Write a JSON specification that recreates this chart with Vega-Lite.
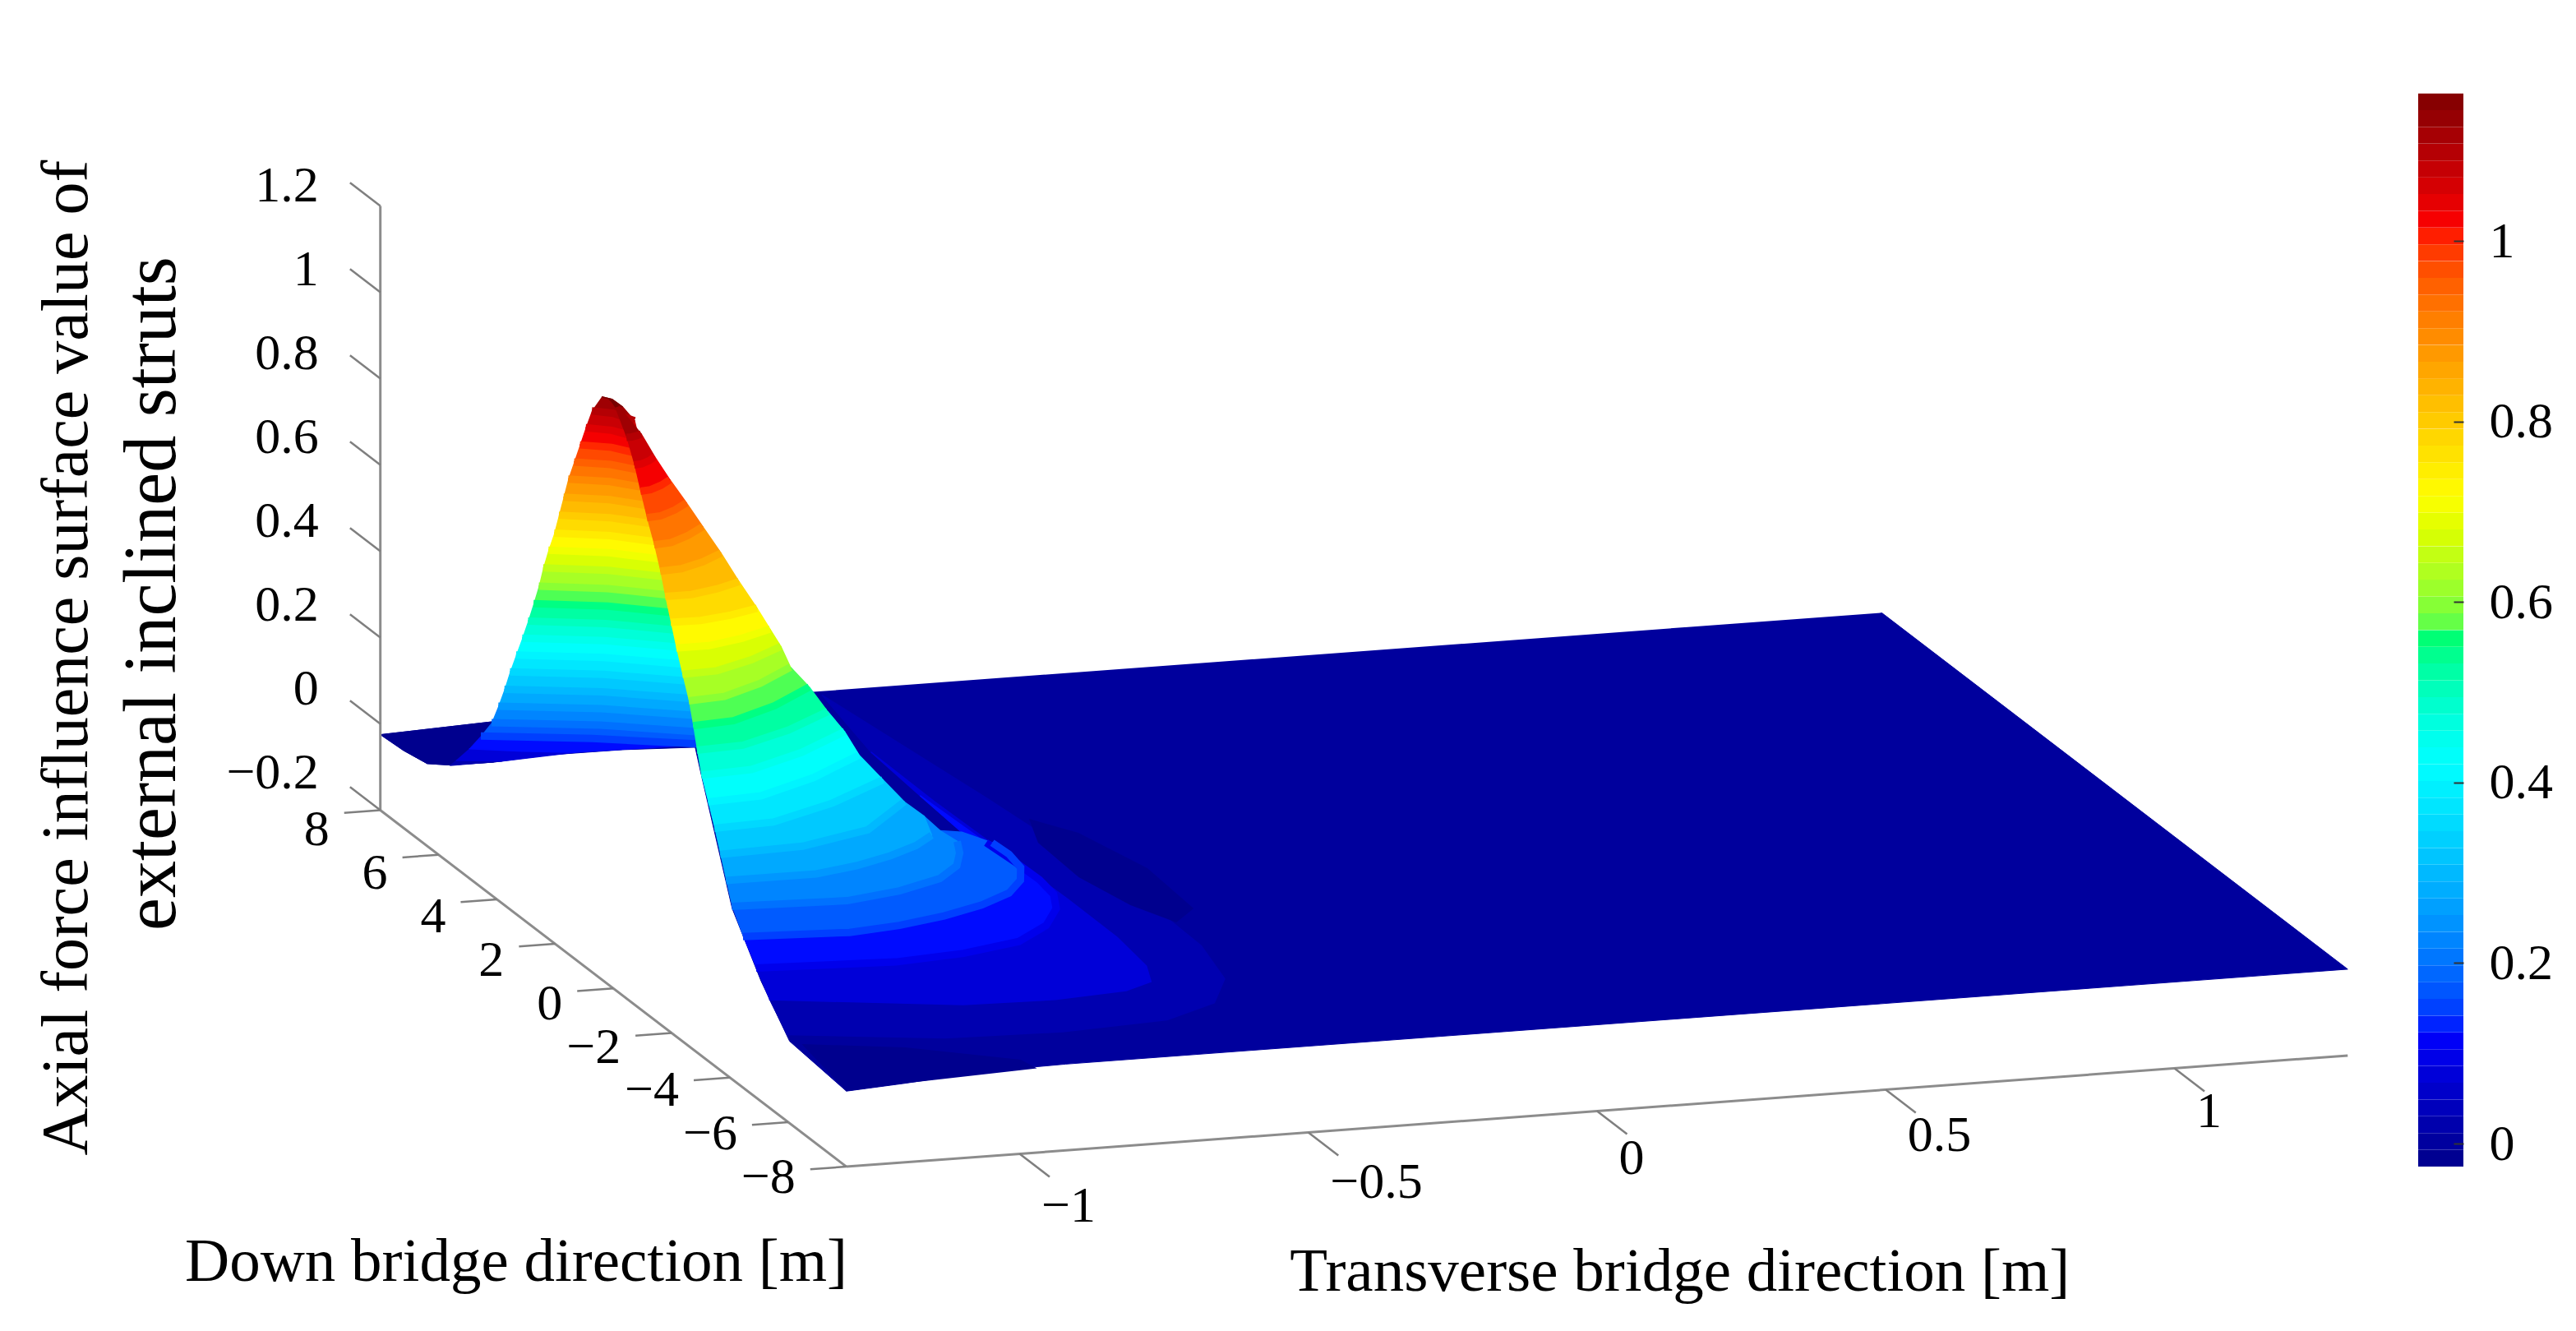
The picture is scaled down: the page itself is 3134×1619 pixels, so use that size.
{
"$schema":"https://vega.github.io/schema/vega-lite/v6.json",
"width":3134,"height":1619,"padding":0,"autosize":"none","background":"white",
"config":{"view":{"stroke":null}},
"datasets":{
"sheets":[
{"s":"b","z":0,"j":0,"t":-1.276,"d":6.09},
{"s":"b","z":0.05,"j":0,"t":-1.3,"d":5.4},{"s":"b","z":0.05,"j":1,"t":-1.265,"d":5.316},{"s":"b","z":0.05,"j":2,"t":-1.23,"d":5.229},
{"s":"b","z":0.1,"j":0,"t":-1.3,"d":4.95},{"s":"b","z":0.1,"j":1,"t":-1.221,"d":4.687},{"s":"b","z":0.1,"j":2,"t":-1.14,"d":4.478},
{"s":"b","z":0.15,"j":0,"t":-1.3,"d":4.55},{"s":"b","z":0.15,"j":1,"t":-1.129,"d":4.11},{"s":"b","z":0.15,"j":2,"t":-0.964,"d":3.537},
{"s":"b","z":0.2,"j":0,"t":-1.3,"d":4.18},{"s":"b","z":0.2,"j":1,"t":-1.134,"d":3.752},{"s":"b","z":0.2,"j":2,"t":-0.979,"d":3.121},
{"s":"b","z":0.25,"j":0,"t":-1.3,"d":3.95},{"s":"b","z":0.25,"j":1,"t":-1.142,"d":3.537},{"s":"b","z":0.25,"j":2,"t":-0.995,"d":2.921},
{"s":"b","z":0.3,"j":0,"t":-1.3,"d":3.74},{"s":"b","z":0.3,"j":1,"t":-1.151,"d":3.343},{"s":"b","z":0.3,"j":2,"t":-1.011,"d":2.743},
{"s":"b","z":0.35,"j":0,"t":-1.3,"d":3.55},{"s":"b","z":0.35,"j":1,"t":-1.157,"d":3.165},{"s":"b","z":0.35,"j":2,"t":-1.024,"d":2.578},
{"s":"b","z":0.4,"j":0,"t":-1.3,"d":3.34},{"s":"b","z":0.4,"j":1,"t":-1.166,"d":2.971},{"s":"b","z":0.4,"j":2,"t":-1.041,"d":2.401},
{"s":"b","z":0.45,"j":0,"t":-1.3,"d":3.13},{"s":"b","z":0.45,"j":1,"t":-1.174,"d":2.778},{"s":"b","z":0.45,"j":2,"t":-1.058,"d":2.223},
{"s":"b","z":0.5,"j":0,"t":-1.3,"d":2.93},{"s":"b","z":0.5,"j":1,"t":-1.182,"d":2.592},{"s":"b","z":0.5,"j":2,"t":-1.074,"d":2.053},
{"s":"b","z":0.55,"j":0,"t":-1.3,"d":2.74},{"s":"b","z":0.55,"j":1,"t":-1.188,"d":2.415},{"s":"b","z":0.55,"j":2,"t":-1.087,"d":1.888},
{"s":"b","z":0.6,"j":0,"t":-1.3,"d":2.56},{"s":"b","z":0.6,"j":1,"t":-1.196,"d":2.25},{"s":"b","z":0.6,"j":2,"t":-1.102,"d":1.738},
{"s":"b","z":0.65,"j":0,"t":-1.3,"d":2.41},{"s":"b","z":0.65,"j":1,"t":-1.202,"d":2.111},{"s":"b","z":0.65,"j":2,"t":-1.114,"d":1.61},
{"s":"b","z":0.7,"j":0,"t":-1.3,"d":2.23},{"s":"b","z":0.7,"j":1,"t":-1.209,"d":1.945},{"s":"b","z":0.7,"j":2,"t":-1.128,"d":1.457},
{"s":"b","z":0.75,"j":0,"t":-1.3,"d":2.03},{"s":"b","z":0.75,"j":1,"t":-1.217,"d":1.761},{"s":"b","z":0.75,"j":2,"t":-1.145,"d":1.29},
{"s":"b","z":0.8,"j":0,"t":-1.3,"d":1.87},{"s":"b","z":0.8,"j":1,"t":-1.225,"d":1.615},{"s":"b","z":0.8,"j":2,"t":-1.159,"d":1.157},
{"s":"b","z":0.85,"j":0,"t":-1.3,"d":1.71},{"s":"b","z":0.85,"j":1,"t":-1.232,"d":1.468},{"s":"b","z":0.85,"j":2,"t":-1.174,"d":1.025},
{"s":"b","z":0.9,"j":0,"t":-1.3,"d":1.55},{"s":"b","z":0.9,"j":1,"t":-1.239,"d":1.322},{"s":"b","z":0.9,"j":2,"t":-1.188,"d":0.892},
{"s":"b","z":0.95,"j":0,"t":-1.3,"d":1.35},{"s":"b","z":0.95,"j":1,"t":-1.247,"d":1.137},{"s":"b","z":0.95,"j":2,"t":-1.204,"d":0.722},
{"s":"b","z":1,"j":0,"t":-1.3,"d":1.15},{"s":"b","z":1,"j":1,"t":-1.255,"d":0.953},{"s":"b","z":1,"j":2,"t":-1.22,"d":0.554},
{"s":"b","z":1.05,"j":0,"t":-1.3,"d":0.95},{"s":"b","z":1.05,"j":1,"t":-1.264,"d":0.769},{"s":"b","z":1.05,"j":2,"t":-1.237,"d":0.387},
{"s":"b","z":1.1,"j":0,"t":-1.3,"d":0.74},{"s":"b","z":1.1,"j":1,"t":-1.271,"d":0.574},{"s":"b","z":1.1,"j":2,"t":-1.253,"d":0.207},
{"s":"b","z":1.15,"j":0,"t":-1.3,"d":0.4},{"s":"b","z":1.15,"j":1,"t":-1.289,"d":0.27},{"s":"b","z":1.15,"j":2,"t":-1.288,"d":-0.07},
{"s":"b","z":1.158,"j":0,"t":-1.3,"d":0.14},
{"s":"f","z":0,"j":0,"t":-1.3,"d":-5.95},{"s":"f","z":0,"j":1,"t":-1.056,"d":-6.565},{"s":"f","z":0,"j":1.5,"t":-0.858,"d":-6.664},{"s":"f","z":0,"j":2,"t":-0.669,"d":-6.497},{"s":"f","z":0,"j":2.5,"t":-0.559,"d":-5.943},{"s":"f","z":0,"j":3,"t":-0.493,"d":-4.99},{"s":"f","z":0,"j":3.5,"t":-0.462,"d":-3.574},{"s":"f","z":0,"j":4,"t":-0.457,"d":-1.737},{"s":"f","z":0,"j":5,"t":-0.496,"d":3.134},{"s":"f","z":0,"j":6,"t":-0.543,"d":7.838},
{"s":"f","z":0.05,"j":0,"t":-1.3,"d":-5.35},{"s":"f","z":0.05,"j":1,"t":-1.004,"d":-6.14},{"s":"f","z":0.05,"j":1.5,"t":-0.848,"d":-6.209},{"s":"f","z":0.05,"j":2,"t":-0.718,"d":-6.061},{"s":"f","z":0.05,"j":2.5,"t":-0.66,"d":-5.768},{"s":"f","z":0.05,"j":3,"t":-0.635,"d":-5.114},{"s":"f","z":0.05,"j":3.5,"t":-0.622,"d":-3.849},{"s":"f","z":0.05,"j":4,"t":-0.621,"d":-2.152},{"s":"f","z":0.05,"j":5,"t":-0.63,"d":2.258},{"s":"f","z":0.05,"j":6,"t":-0.628,"d":4.468},
{"s":"f","z":0.1,"j":0,"t":-1.3,"d":-4.9},{"s":"f","z":0.1,"j":1,"t":-1.067,"d":-5.071},{"s":"f","z":0.1,"j":1.5,"t":-0.942,"d":-4.925},{"s":"f","z":0.1,"j":2,"t":-0.83,"d":-4.604},{"s":"f","z":0.1,"j":2.5,"t":-0.754,"d":-4.035},{"s":"f","z":0.1,"j":3,"t":-0.703,"d":-3.37},{"s":"f","z":0.1,"j":3.5,"t":-0.678,"d":-2.784},{"s":"f","z":0.1,"j":4,"t":-0.67,"d":-2.143},{"s":"f","z":0.1,"j":4.5,"t":-0.672,"d":-1.361},{"s":"f","z":0.1,"j":5,"t":-0.678,"d":-0.467},{"s":"f","z":0.1,"j":6,"t":-0.685,"d":1.65},
{"s":"f","z":0.15,"j":0,"t":-1.3,"d":-4.45},{"s":"f","z":0.15,"j":1,"t":-1.123,"d":-4.605},{"s":"f","z":0.15,"j":1.5,"t":-1.03,"d":-4.468},{"s":"f","z":0.15,"j":2,"t":-0.94,"d":-4.219},{"s":"f","z":0.15,"j":2.5,"t":-0.858,"d":-3.885},{"s":"f","z":0.15,"j":3,"t":-0.79,"d":-3.474},{"s":"f","z":0.15,"j":3.5,"t":-0.746,"d":-2.992},{"s":"f","z":0.15,"j":4,"t":-0.719,"d":-2.466},{"s":"f","z":0.15,"j":4.5,"t":-0.71,"d":-1.888},{"s":"f","z":0.15,"j":5,"t":-0.713,"d":-1.369},{"s":"f","z":0.15,"j":6,"t":-0.739,"d":-0.84},
{"s":"f","z":0.2,"j":0,"t":-1.3,"d":-4.07},{"s":"f","z":0.2,"j":1,"t":-1.106,"d":-4.183},{"s":"f","z":0.2,"j":1.5,"t":-1.003,"d":-3.938},{"s":"f","z":0.2,"j":2,"t":-0.914,"d":-3.556},{"s":"f","z":0.2,"j":2.5,"t":-0.861,"d":-3.086},{"s":"f","z":0.2,"j":3,"t":-0.83,"d":-2.573},{"s":"f","z":0.2,"j":3.5,"t":-0.81,"d":-2.09},{"s":"f","z":0.2,"j":4,"t":-0.815,"d":-1.605},
{"s":"f","z":0.25,"j":0,"t":-1.3,"d":-3.87},{"s":"f","z":0.25,"j":1,"t":-1.144,"d":-3.875},{"s":"f","z":0.25,"j":1.5,"t":-1.064,"d":-3.662},{"s":"f","z":0.25,"j":2,"t":-0.99,"d":-3.359},{"s":"f","z":0.25,"j":2.5,"t":-0.928,"d":-3.018},{"s":"f","z":0.25,"j":3,"t":-0.882,"d":-2.642},{"s":"f","z":0.25,"j":4,"t":-0.855,"d":-1.846},
{"s":"f","z":0.3,"j":0,"t":-1.3,"d":-3.67},{"s":"f","z":0.3,"j":1,"t":-1.153,"d":-3.583},{"s":"f","z":0.3,"j":2,"t":-1.016,"d":-3.109},{"s":"f","z":0.3,"j":3,"t":-0.901,"d":-2.075},
{"s":"f","z":0.35,"j":0,"t":-1.3,"d":-3.47},{"s":"f","z":0.35,"j":1,"t":-1.194,"d":-3.391},{"s":"f","z":0.35,"j":2,"t":-1.062,"d":-2.795},{"s":"f","z":0.35,"j":3,"t":-0.934,"d":-1.996},
{"s":"f","z":0.4,"j":0,"t":-1.3,"d":-3.25},{"s":"f","z":0.4,"j":1,"t":-1.204,"d":-3.161},{"s":"f","z":0.4,"j":2,"t":-1.083,"d":-2.574},{"s":"f","z":0.4,"j":3,"t":-0.965,"d":-1.791},
{"s":"f","z":0.45,"j":0,"t":-1.3,"d":-3.02},{"s":"f","z":0.45,"j":1,"t":-1.209,"d":-2.94},{"s":"f","z":0.45,"j":2,"t":-1.095,"d":-2.396},{"s":"f","z":0.45,"j":3,"t":-0.984,"d":-1.67},
{"s":"f","z":0.5,"j":0,"t":-1.3,"d":-2.87},{"s":"f","z":0.5,"j":1,"t":-1.217,"d":-2.803},{"s":"f","z":0.5,"j":2,"t":-1.114,"d":-2.325},{"s":"f","z":0.5,"j":3,"t":-1.014,"d":-1.685},
{"s":"f","z":0.55,"j":0,"t":-1.3,"d":-2.74},{"s":"f","z":0.55,"j":1,"t":-1.226,"d":-2.657},{"s":"f","z":0.55,"j":2,"t":-1.13,"d":-2.164},{"s":"f","z":0.55,"j":3,"t":-1.037,"d":-1.51},
{"s":"f","z":0.6,"j":0,"t":-1.3,"d":-2.59},{"s":"f","z":0.6,"j":1,"t":-1.235,"d":-2.519},{"s":"f","z":0.6,"j":2,"t":-1.151,"d":-2.089},{"s":"f","z":0.6,"j":3,"t":-1.07,"d":-1.519},
{"s":"f","z":0.65,"j":0,"t":-1.3,"d":-2.37},{"s":"f","z":0.65,"j":1,"t":-1.238,"d":-2.326},{"s":"f","z":0.65,"j":2,"t":-1.161,"d":-1.984},{"s":"f","z":0.65,"j":3,"t":-1.087,"d":-1.525},
{"s":"f","z":0.7,"j":0,"t":-1.3,"d":-2.16},{"s":"f","z":0.7,"j":1,"t":-1.243,"d":-2.159},{"s":"f","z":0.7,"j":2,"t":-1.176,"d":-1.956},{"s":"f","z":0.7,"j":3,"t":-1.113,"d":-1.67},
{"s":"f","z":0.75,"j":0,"t":-1.3,"d":-1.97},{"s":"f","z":0.75,"j":1,"t":-1.249,"d":-1.987},{"s":"f","z":0.75,"j":2,"t":-1.19,"d":-1.856},{"s":"f","z":0.75,"j":3,"t":-1.135,"d":-1.66},
{"s":"f","z":0.8,"j":0,"t":-1.3,"d":-1.78},{"s":"f","z":0.8,"j":1,"t":-1.255,"d":-1.78},{"s":"f","z":0.8,"j":2,"t":-1.202,"d":-1.622},{"s":"f","z":0.8,"j":3,"t":-1.153,"d":-1.398},
{"s":"f","z":0.85,"j":0,"t":-1.3,"d":-1.61},{"s":"f","z":0.85,"j":1,"t":-1.262,"d":-1.578},{"s":"f","z":0.85,"j":2,"t":-1.213,"d":-1.354},{"s":"f","z":0.85,"j":3,"t":-1.167,"d":-1.054},
{"s":"f","z":0.9,"j":0,"t":-1.3,"d":-1.4},{"s":"f","z":0.9,"j":1,"t":-1.268,"d":-1.355},{"s":"f","z":0.9,"j":2,"t":-1.227,"d":-1.118},{"s":"f","z":0.9,"j":3,"t":-1.186,"d":-0.807},
{"s":"f","z":0.95,"j":0,"t":-1.3,"d":-1.15},{"s":"f","z":0.95,"j":1,"t":-1.274,"d":-1.113},{"s":"f","z":0.95,"j":2,"t":-1.24,"d":-0.919},{"s":"f","z":0.95,"j":3,"t":-1.207,"d":-0.664},
{"s":"f","z":1,"j":0,"t":-1.3,"d":-0.93},{"s":"f","z":1,"j":1,"t":-1.281,"d":-0.9},{"s":"f","z":1,"j":2,"t":-1.255,"d":-0.748},{"s":"f","z":1,"j":3,"t":-1.23,"d":-0.549},
{"s":"f","z":1.05,"j":0,"t":-1.3,"d":-0.72},{"s":"f","z":1.05,"j":1,"t":-1.286,"d":-0.698},{"s":"f","z":1.05,"j":2,"t":-1.268,"d":-0.589},{"s":"f","z":1.05,"j":3,"t":-1.251,"d":-0.446},
{"s":"f","z":1.1,"j":0,"t":-1.3,"d":-0.45},{"s":"f","z":1.1,"j":1,"t":-1.291,"d":-0.448},{"s":"f","z":1.1,"j":2,"t":-1.28,"d":-0.411},{"s":"f","z":1.1,"j":3,"t":-1.27,"d":-0.36},
{"s":"f","z":1.15,"j":0,"t":-1.3,"d":-0.05},{"s":"f","z":1.15,"j":1,"t":-1.293,"d":-0.026},
{"s":"f","z":1.158,"j":0,"t":-1.3,"d":0.14}
],
"patches":[
{"p":"plate","j":0,"t":1.3,"d":8,"z":0},{"p":"plate","j":1,"t":1.3,"d":-8,"z":0},{"p":"plate","j":2,"t":-0.77,"d":-8,"z":0},{"p":"plate","j":3,"t":-0.92,"d":-8,"z":0},{"p":"plate","j":4,"t":-1.06,"d":-8,"z":-0.003},{"p":"plate","j":5,"t":-1.2,"d":-8,"z":-0.017},{"p":"plate","j":6,"t":-1.3,"d":-8,"z":-0.025},{"p":"plate","j":6.5,"t":-1.3,"d":-6.05,"z":-0.01},{"p":"plate","j":7,"t":-1.3,"d":-5.07,"z":0.079},{"p":"plate","j":8,"t":-1.3,"d":-4.08,"z":0.196},{"p":"plate","j":9,"t":-1.3,"d":-3.01,"z":0.453},{"p":"plate","j":10,"t":-0.958,"d":3.97,"z":0.12},{"p":"plate","j":11,"t":-1.078,"d":4.09,"z":0.12},{"p":"plate","j":12,"t":-1.204,"d":4.1,"z":0.12},{"p":"plate","j":13,"t":-1.28,"d":4.5,"z":0.09},{"p":"plate","j":14,"t":-1.3,"d":5.63,"z":0.027},{"p":"plate","j":15,"t":-1.3,"d":6.39,"z":-0.009},{"p":"plate","j":16,"t":-1.3,"d":7.24,"z":-0.021},{"p":"plate","j":17,"t":-1.3,"d":8,"z":-0.025},{"p":"plate","j":18,"t":-1.1,"d":8,"z":-0.014},{"p":"plate","j":19,"t":-0.55,"d":8,"z":0},
{"p":"notch","j":0,"t":-1.3,"d":8,"z":-0.025},{"p":"notch","j":1,"t":-1.1,"d":8,"z":-0.014},{"p":"notch","j":2,"t":-1.28,"d":4.5,"z":0.09},{"p":"notch","j":3,"t":-1.3,"d":5.63,"z":0.027},{"p":"notch","j":4,"t":-1.3,"d":6.39,"z":-0.009},{"p":"notch","j":5,"t":-1.3,"d":7.24,"z":-0.021},
{"p":"dip","j":0,"t":-0.454,"d":2.5,"z":-0.02},{"p":"dip","j":1,"t":-0.405,"d":1.78,"z":-0.02},{"p":"dip","j":2,"t":-0.369,"d":0.124,"z":-0.02},{"p":"dip","j":3,"t":-0.379,"d":-1.663,"z":-0.02},{"p":"dip","j":4,"t":-0.435,"d":-2.183,"z":-0.02},{"p":"dip","j":5,"t":-0.472,"d":-1.338,"z":-0.02},{"p":"dip","j":6,"t":-0.496,"d":-0.037,"z":-0.02},{"p":"dip","j":7,"t":-0.489,"d":1.498,"z":-0.02},
{"p":"corner","j":0,"t":-1.278,"d":-6.03,"z":-0.02},{"p":"corner","j":1,"t":-1.122,"d":-6.475,"z":-0.02},{"p":"corner","j":2,"t":-0.964,"d":-7.33,"z":-0.02},{"p":"corner","j":3,"t":-0.97,"d":-8,"z":-0.005},{"p":"corner","j":4,"t":-1.2,"d":-8,"z":-0.017},{"p":"corner","j":5,"t":-1.3,"d":-8,"z":-0.025}
],
"ticks":[
{"a":"z","v":-0.2},{"a":"z","v":0},{"a":"z","v":0.2},{"a":"z","v":0.4},{"a":"z","v":0.6},{"a":"z","v":0.8},{"a":"z","v":1},{"a":"z","v":1.2},
{"a":"d","v":-8},{"a":"d","v":-6},{"a":"d","v":-4},{"a":"d","v":-2},{"a":"d","v":0},{"a":"d","v":2},{"a":"d","v":4},{"a":"d","v":6},{"a":"d","v":8},
{"a":"t","v":-1},{"a":"t","v":-0.5},{"a":"t","v":0},{"a":"t","v":0.5},{"a":"t","v":1}
],
"frame":[
{"t":-1.3,"d":8,"z":-0.2,"t2":-1.3,"d2":8,"z2":1.2},
{"t":-1.3,"d":8,"z":-0.2,"t2":-1.3,"d2":-8,"z2":-0.2},
{"t":-1.3,"d":-8,"z":-0.2,"t2":1.3,"d2":-8,"z2":-0.2}
],
"titles":[
{"label":"Down bridge direction [m]","o":"h","t":-2.057,"d":-11.67,"z":-0.2},
{"label":"Transverse bridge direction [m]","o":"h","t":-0.24,"d":-15.6,"z":-0.2},
{"label":"Axial force influence surface value of","o":"v1","t":-1.449,"d":15.125,"z":-0.2},
{"label":"external inclined struts","o":"v2","t":-1.177,"d":17.485,"z":-0.2}
],
"bar":[{"z0":-0.0255},{"z0":-0.0069},{"z0":0.0117},{"z0":0.0302},{"z0":0.0488},{"z0":0.0674},{"z0":0.086},{"z0":0.1045},{"z0":0.1231},{"z0":0.1417},{"z0":0.1603},{"z0":0.1788},{"z0":0.1974},{"z0":0.216},{"z0":0.2346},{"z0":0.2531},{"z0":0.2717},{"z0":0.2903},{"z0":0.3089},{"z0":0.3274},{"z0":0.346},{"z0":0.3646},{"z0":0.3832},{"z0":0.4017},{"z0":0.4203},{"z0":0.4389},{"z0":0.4575},{"z0":0.476},{"z0":0.4946},{"z0":0.5132},{"z0":0.5318},{"z0":0.5503},{"z0":0.5689},{"z0":0.5875},{"z0":0.6061},{"z0":0.6246},{"z0":0.6432},{"z0":0.6618},{"z0":0.6804},{"z0":0.6989},{"z0":0.7175},{"z0":0.7361},{"z0":0.7547},{"z0":0.7732},{"z0":0.7918},{"z0":0.8104},{"z0":0.829},{"z0":0.8475},{"z0":0.8661},{"z0":0.8847},{"z0":0.9033},{"z0":0.9218},{"z0":0.9404},{"z0":0.959},{"z0":0.9776},{"z0":0.9961},{"z0":1.0147},{"z0":1.0333},{"z0":1.0519},{"z0":1.0704},{"z0":1.089},{"z0":1.1076},{"z0":1.1262},{"z0":1.1447}]
},
"resolve":{"scale":{"x":"independent","y":"independent"}},
"layer":[
{
"encoding":{
"x":{"field":"sx","type":"quantitative","scale":{"domain":[0,3134],"nice":false,"zero":false},"axis":null},
"y":{"field":"sy","type":"quantitative","scale":{"domain":[1619,0],"nice":false,"zero":false},"axis":null}
},
"layer":[
{"data":{"name":"patches"},
"transform":[{"filter":"datum.p=='plate'||datum.p=='notch'"},{"calculate":"datum.p=='plate'?0:-0.02","as":"c"},{"calculate":"1943+702.5*datum.t-35.44*(datum.d+8)","as":"sx"},{"calculate":"1351.5-52*datum.t-27.1*(datum.d+8)-525*(datum.z+0.2)","as":"sy"}],
"mark":{"type":"line","strokeWidth":1},
"encoding":{"detail":{"field":"p"},"order":{"field":"j","type":"quantitative"},
"fill":{"field":"c","type":"quantitative","legend":null,"scale":{"domain":[-0.0255,0.123,0.42,0.57,0.58,0.717,1.014,1.163],"range":["#00008a","#0000ff","#00ffff","#00ff66","#70ff40","#ffff00","#ff0000","#800000"]}},
"stroke":{"field":"c","type":"quantitative","legend":null,"scale":{"domain":[-0.0255,0.123,0.42,0.57,0.58,0.717,1.014,1.163],"range":["#00008a","#0000ff","#00ffff","#00ff66","#70ff40","#ffff00","#ff0000","#800000"]}}}},
{"data":{"name":"sheets"},
"transform":[{"filter":"datum.s=='b'"},{"calculate":"ceil(datum.z/0.05-0.01)","as":"k"},{"calculate":"[datum.k,datum.k-1]","as":"band"},{"flatten":["band"]},{"filter":"datum.band>=0"},{"calculate":"datum.band==datum.k?datum.j:1000-datum.j","as":"ord"},{"calculate":"datum.band*0.05+0.025","as":"zb"},{"calculate":"1943+702.5*datum.t-35.44*(datum.d+8)","as":"sx"},{"calculate":"1351.5-52*datum.t-27.1*(datum.d+8)-525*(datum.z+0.2)","as":"sy"}],
"mark":{"type":"line","strokeWidth":1.5,"strokeJoin":"round"},
"encoding":{"detail":{"field":"band"},"order":{"field":"ord","type":"quantitative"},
"fill":{"field":"zb","type":"quantitative","legend":null,"scale":{"domain":[-0.0255,0.123,0.42,0.57,0.58,0.717,1.014,1.163],"range":["#00008a","#0000ff","#00ffff","#00ff66","#70ff40","#ffff00","#ff0000","#800000"]}},
"stroke":{"field":"zb","type":"quantitative","legend":null,"scale":{"domain":[-0.0255,0.123,0.42,0.57,0.58,0.717,1.014,1.163],"range":["#00008a","#0000ff","#00ffff","#00ff66","#70ff40","#ffff00","#ff0000","#800000"]}}}},
{"data":{"name":"sheets"},
"transform":[{"filter":"datum.s=='b'&&datum.z>=0.15&&datum.z<1.15"},{"calculate":"1943+702.5*datum.t-35.44*(datum.d+8)","as":"sx"},{"calculate":"1351.5-52*datum.t-27.1*(datum.d+8)-525*(datum.z+0.2)","as":"sy"}],
"mark":{"type":"line","strokeWidth":9,"strokeCap":"butt"},
"encoding":{"detail":{"field":"z"},"order":{"field":"j","type":"quantitative"},
"stroke":{"field":"z","type":"quantitative","legend":null,"scale":{"domain":[-0.0255,0.123,0.42,0.57,0.58,0.717,1.014,1.163],"range":["#00008a","#0000ff","#00ffff","#00ff66","#70ff40","#ffff00","#ff0000","#800000"]}}}},
{"data":{"name":"sheets"},
"transform":[{"filter":"datum.s=='f'"},{"calculate":"ceil(datum.z/0.05-0.01)","as":"k"},{"calculate":"[datum.k,datum.k-1]","as":"band"},{"flatten":["band"]},{"filter":"datum.band>=0"},{"calculate":"datum.band==datum.k?datum.j:1000-datum.j","as":"ord"},{"calculate":"datum.band*0.05+0.025","as":"zb"},{"calculate":"1943+702.5*datum.t-35.44*(datum.d+8)","as":"sx"},{"calculate":"1351.5-52*datum.t-27.1*(datum.d+8)-525*(datum.z+0.2)","as":"sy"}],
"mark":{"type":"line","strokeWidth":1.5,"strokeJoin":"round"},
"encoding":{"detail":{"field":"band"},"order":{"field":"ord","type":"quantitative"},
"fill":{"field":"zb","type":"quantitative","legend":null,"scale":{"domain":[-0.0255,0.123,0.42,0.57,0.58,0.717,1.014,1.163],"range":["#00008a","#0000ff","#00ffff","#00ff66","#70ff40","#ffff00","#ff0000","#800000"]}},
"stroke":{"field":"zb","type":"quantitative","legend":null,"scale":{"domain":[-0.0255,0.123,0.42,0.57,0.58,0.717,1.014,1.163],"range":["#00008a","#0000ff","#00ffff","#00ff66","#70ff40","#ffff00","#ff0000","#800000"]}}}},
{"data":{"name":"sheets"},
"transform":[{"filter":"datum.s=='f'&&datum.z<1.15&&(datum.z>=0.275||(datum.z>=0.175&&datum.j<4)||(datum.z>=0.075&&datum.z<0.175&&datum.j<6))"},{"calculate":"1943+702.5*datum.t-35.44*(datum.d+8)","as":"sx"},{"calculate":"1351.5-52*datum.t-27.1*(datum.d+8)-525*(datum.z+0.2)","as":"sy"}],
"mark":{"type":"line","strokeWidth":9,"strokeCap":"butt"},
"encoding":{"detail":{"field":"z"},"order":{"field":"j","type":"quantitative"},
"stroke":{"field":"z","type":"quantitative","legend":null,"scale":{"domain":[-0.0255,0.123,0.42,0.57,0.58,0.717,1.014,1.163],"range":["#00008a","#0000ff","#00ffff","#00ff66","#70ff40","#ffff00","#ff0000","#800000"]}}}},
{"data":{"name":"patches"},
"transform":[{"filter":"datum.p=='dip'||datum.p=='corner'"},{"calculate":"-0.02","as":"c"},{"calculate":"1943+702.5*datum.t-35.44*(datum.d+8)","as":"sx"},{"calculate":"1351.5-52*datum.t-27.1*(datum.d+8)-525*(datum.z+0.2)","as":"sy"}],
"mark":{"type":"line","strokeWidth":0},
"encoding":{"detail":{"field":"p"},"order":{"field":"j","type":"quantitative"},
"fill":{"field":"c","type":"quantitative","legend":null,"scale":{"domain":[-0.0255,0.123,0.42,0.57,0.58,0.717,1.014,1.163],"range":["#00008a","#0000ff","#00ffff","#00ff66","#70ff40","#ffff00","#ff0000","#800000"]}}}},
{"data":{"name":"frame"},
"transform":[{"calculate":"1943+702.5*datum.t-35.44*(datum.d+8)","as":"sx"},{"calculate":"1351.5-52*datum.t-27.1*(datum.d+8)-525*(datum.z+0.2)","as":"sy"},{"calculate":"1943+702.5*datum.t2-35.44*(datum.d2+8)","as":"ex"},{"calculate":"1351.5-52*datum.t2-27.1*(datum.d2+8)-525*(datum.z2+0.2)","as":"ey"}],
"mark":{"type":"rule","color":"#8c8c8c","strokeWidth":3},
"encoding":{"x2":{"field":"ex"},"y2":{"field":"ey"}}},
{"data":{"name":"ticks"},
"transform":[{"calculate":"datum.a=='t'?datum.v:-1.3","as":"t"},{"calculate":"datum.a=='d'?datum.v:(datum.a=='z'?8:-8)","as":"d"},{"calculate":"datum.a=='z'?datum.v:-0.2","as":"z"},{"calculate":"1943+702.5*datum.t-35.44*(datum.d+8)","as":"sx"},{"calculate":"1351.5-52*datum.t-27.1*(datum.d+8)-525*(datum.z+0.2)","as":"sy"},{"calculate":"datum.t-(datum.a=='d'?0.0626:0)","as":"t2"},{"calculate":"datum.d+(datum.a=='z'?1.04:(datum.a=='t'?-1.03:0))","as":"d2"},{"calculate":"1943+702.5*datum.t2-35.44*(datum.d2+8)","as":"ex"},{"calculate":"1351.5-52*datum.t2-27.1*(datum.d2+8)-525*(datum.z+0.2)","as":"ey"},{"calculate":"datum.a=='z'?datum.ey+4-15*(1.2-datum.v):(datum.a=='d'?datum.ey+15+0.625*datum.v:datum.ey+30-5.5*datum.v)","as":"ly"}],
"layer":[
{"mark":{"type":"rule","color":"#7f7f7f","strokeWidth":2.5},"encoding":{"x2":{"field":"ex"},"y2":{"field":"ey"}}},
{"transform":[{"filter":"datum.a=='z'"}],"mark":{"type":"text","font":"Liberation Serif","fontSize":62,"align":"right","baseline":"middle","dx":-38,"color":"black"},"encoding":{"x":{"field":"ex","type":"quantitative"},"y":{"field":"ly","type":"quantitative"},"text":{"field":"v","type":"quantitative","format":"~g"}}},
{"transform":[{"filter":"datum.a=='d'"}],"mark":{"type":"text","font":"Liberation Serif","fontSize":62,"align":"right","baseline":"middle","dx":-18,"color":"black"},"encoding":{"x":{"field":"ex","type":"quantitative"},"y":{"field":"ly","type":"quantitative"},"text":{"field":"v","type":"quantitative","format":"~g"}}},
{"transform":[{"filter":"datum.a=='t'"}],"mark":{"type":"text","font":"Liberation Serif","fontSize":62,"align":"left","baseline":"middle","dx":-10,"color":"black"},"encoding":{"x":{"field":"ex","type":"quantitative"},"y":{"field":"ly","type":"quantitative"},"text":{"field":"v","type":"quantitative","format":"~g"}}}
]},
{"data":{"name":"titles"},
"transform":[{"calculate":"1943+702.5*datum.t-35.44*(datum.d+8)","as":"sx"},{"calculate":"1351.5-52*datum.t-27.1*(datum.d+8)-525*(datum.z+0.2)","as":"sy"}],
"layer":[
{"transform":[{"filter":"datum.o=='h'"}],"mark":{"type":"text","font":"Liberation Serif","fontSize":75,"align":"center","baseline":"alphabetic","color":"black"},"encoding":{"text":{"field":"label"}}},
{"transform":[{"filter":"datum.o=='v1'"}],"mark":{"type":"text","font":"Liberation Serif","fontSize":80,"angle":270,"align":"center","baseline":"alphabetic","color":"black"},"encoding":{"text":{"field":"label"}}},
{"transform":[{"filter":"datum.o=='v2'"}],"mark":{"type":"text","font":"Liberation Serif","fontSize":90,"angle":270,"align":"center","baseline":"alphabetic","color":"black"},"encoding":{"text":{"field":"label"}}}
]}
]
},
{"data":{"name":"bar"},
"transform":[{"calculate":"datum.z0+0.01857","as":"z1"},{"calculate":"datum.z0+0.0093","as":"zm"}],
"mark":{"type":"rect"},
"encoding":{
"x":{"datum":0,"type":"quantitative","scale":{"domain":[0,1],"range":[2942,2997],"nice":false,"zero":false},"axis":null},
"x2":{"datum":1},
"y":{"field":"z0","type":"quantitative","scale":{"domain":[0,1],"range":[1391,293],"nice":false,"zero":false},"axis":{"orient":"right","offset":-137,"values":[0,0.2,0.4,0.6,0.8,1],"format":"~g","title":null,"grid":false,"domain":false,"zindex":1,"tickSize":-12,"tickColor":"#333333","tickWidth":2,"labelPadding":43,"labelFont":"Liberation Serif","labelFontSize":62,"labelColor":"black"}},
"y2":{"field":"z1"},
"fill":{"field":"zm","type":"quantitative","legend":null,"scale":{"domain":[-0.0255,0.123,0.42,0.57,0.58,0.717,1.014,1.163],"range":["#00008a","#0000ff","#00ffff","#00ff66","#70ff40","#ffff00","#ff0000","#800000"]}}
}}
]
}
